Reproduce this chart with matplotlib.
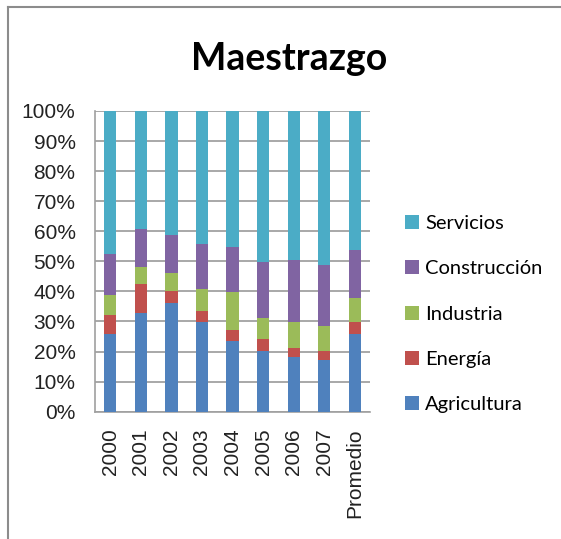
import numpy as np
import matplotlib
matplotlib.use("Agg")
import matplotlib.pyplot as plt
from matplotlib.lines import Line2D
from matplotlib.patches import Patch
from matplotlib.ticker import PercentFormatter

# Datos (%)
anios = ["2000", "2001", "2002", "2003", "2004", "2005", "2006", "2007", "Promedio"]
agricultura = [25.8, 32.9, 36.3, 29.9, 23.5, 20.2, 18.1, 17.3, 25.8]
energia = [6.4, 9.5, 3.7, 3.5, 3.6, 3.9, 3.0, 2.9, 4.1]
industria = [6.7, 5.8, 6.0, 7.4, 12.6, 6.9, 8.8, 8.3, 7.9]
construccion = [13.4, 12.4, 12.8, 15.0, 15.0, 18.8, 20.5, 20.2, 16.0]
servicios = [47.7, 39.4, 41.2, 44.2, 45.3, 50.2, 49.6, 51.3, 46.2]

sectores = ["Agricultura", "Energía", "Industria", "Construcción", "Servicios"]
colores = ["#4F81BD", "#C0504D", "#9BBB59", "#8064A2", "#4BACC6"]

fig = plt.figure(figsize=(5.61, 5.39), dpi=100)
ax = fig.add_axes([95/561, 1-411.7/539, 275/561, 300.7/539])

datos = np.array([agricultura, energia, industria, construccion, servicios])
datos = datos / datos.sum(axis=0) * 100
x = np.arange(len(anios))
base = np.zeros(len(anios))
for serie, color in zip(datos, colores):
    ax.bar(x, serie, bottom=base, width=0.4, color=color, zorder=3)
    base += serie

ax.set_xlim(-0.5, len(anios) - 0.5)
ax.set_ylim(0, 100)
ax.set_yticks(np.arange(0, 101, 10))
ax.yaxis.set_major_formatter(PercentFormatter(decimals=0))
ax.set_xticks(x)
ax.set_xticklabels(anios, rotation=90, fontfamily="Liberation Sans", fontsize=15, color="#222222")
for lab in ax.get_yticklabels():
    lab.set_fontfamily("Liberation Sans")
    lab.set_fontsize(15)
    lab.set_color("#222222")
ax.tick_params(axis="both", length=0)
ax.tick_params(axis="y", pad=14)
ax.tick_params(axis="x", pad=12)
ax.grid(axis="y", color="#9a9a9a", linewidth=1.2, zorder=0)
for lado in ["top", "right"]:
    ax.spines[lado].set_visible(False)
for lado in ["left", "bottom"]:
    ax.spines[lado].set_color("#a0a0a0")
    ax.spines[lado].set_linewidth(1.2)

fig.text(289/561, 1-59/539, "Maestrazgo", ha="center", va="center",
         fontfamily="Lato", fontweight="bold", fontsize=27)

handles = [Patch(facecolor=c, edgecolor="none") for c in colores][::-1]
fig.legend(handles, sectores[::-1], loc="upper left",
           bbox_to_anchor=(405/561, 1-215/539), frameon=False, borderpad=0,
           borderaxespad=0, handlelength=0.7, handleheight=0.7,
           handletextpad=0.3, labelspacing=1.4,
           prop={"family": "Lato", "size": 14.5})

# marco del grafico
fig.add_artist(Line2D([8/561, 8/561], [0, 1-7/539], color="#8c8c8c", linewidth=1.5))
fig.add_artist(Line2D([8/561, 1], [1-7/539, 1-7/539], color="#8c8c8c", linewidth=1.5))

fig.savefig("out.png", dpi=100)
